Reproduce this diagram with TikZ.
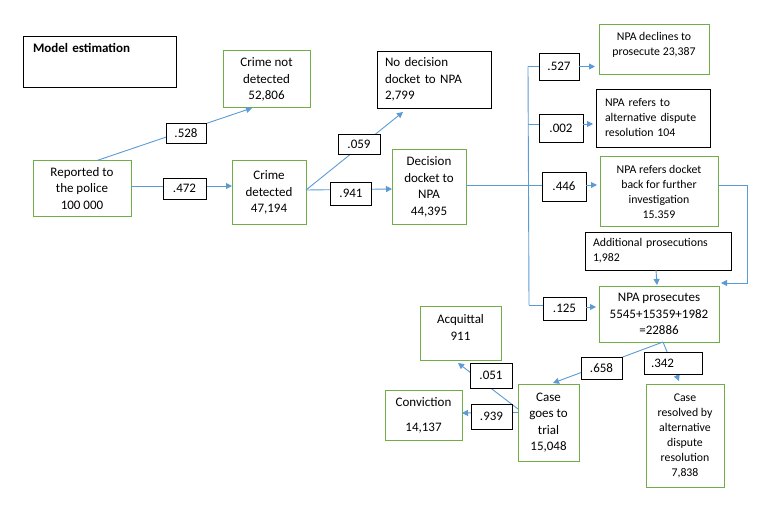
\documentclass[tikz,border=0pt]{standalone}
\usepackage{fontspec}
\setmainfont{Carlito}
\usetikzlibrary{arrows.meta,calc}
\definecolor{boxgreen}{RGB}{112,173,71}
\definecolor{linkblue}{RGB}{91,155,213}
\newcommand\mainf{\fontsize{13}{16.5}\selectfont}
\newcommand\smallf{\fontsize{11.8}{15}\selectfont}
\newcommand\liftup[2]{\raisebox{#1}[\height][\depth]{#2}}
\begin{document}
\begin{tikzpicture}[x=1pt,y=-1pt,
  gbox/.style={draw=boxgreen,line width=1pt,fill=white,inner sep=0pt,outer sep=0pt,align=center,font=\mainf},
  bbox/.style={draw=black,line width=0.9pt,fill=white,inner sep=0pt,outer sep=0pt,align=center,font=\mainf},
  conn/.style={draw=linkblue,line width=0.9pt},
  arr/.style={conn,-{Triangle[length=6pt,width=6pt]}},
  sz/.style 2 args={minimum width=#1pt,minimum height=#2pt}]
\useasboundingbox (0,0) rectangle (768,513);
\fill[white] (0,0) rectangle (768,513);

% boxes
\node[bbox,sz={153}{51},text width=133pt,align=left,inner xsep=10pt] (model) at (99.5,61.5)
  {\liftup{13.5pt}{\textbf{Model estimation}}};
\node[gbox,sz={87}{57}] (cnd) at (266.5,79.5) {Crime not\\detected\\52,806};
\node[gbox,sz={98}{56}] (rep) at (82,188.5) {Reported to\\the police\\100 000};
\node[gbox,sz={74}{63}] (cd) at (269,192.5) {Crime\\detected\\47,194};
\node[bbox,sz={114}{57},text width=98pt,align=left,inner xsep=8pt] (nod) at (434,79.5)
  {No decision\\docket to NPA\\2,799};
\node[gbox,sz={74}{74}] (dd) at (429,187) {Decision\\docket to\\NPA\\44,395};
\node[gbox,sz={110}{50},font=\smallf] (dec) at (654,50)
  {\liftup{4.5pt}{\begin{tabular}{@{}c@{}}NPA declines to\\prosecute 23,387\end{tabular}}};
\node[bbox,sz={114}{58},font=\smallf,text width=96pt,align=left,inner xsep=9pt] (alt) at (653,118)
  {NPA refers to\\alternative dispute\\resolution 104};
\node[gbox,sz={118}{69},font=\smallf] (back) at (659,191.5)
  {NPA refers docket\\back for further\\investigation\\15.359};
\node[bbox,sz={146}{38},font=\smallf,text width=130pt,align=left,inner xsep=8pt] (addp) at (658,251)
  {Additional prosecutions\\1,982};
\node[gbox,sz={120}{56}] (pros) at (659,314) {NPA prosecutes\\5545+15359+1982\\=22886};
\node[gbox,sz={81}{54}] (acq) at (460.5,333)
  {\liftup{4.5pt}{\begin{tabular}{@{}c@{}}Acquittal\\911\end{tabular}}};
\node[gbox,sz={77}{50}] (conv) at (423.5,415) {Conviction\\[8.5pt]14,137};
\node[gbox,sz={61}{77}] (trial) at (548.5,422.5) {Case\\goes to\\trial\\15,048};
\node[gbox,sz={78}{103},font=\smallf] (adr) at (685,435.5)
  {Case\\resolved by\\alternative\\dispute\\resolution\\7,838};

% long connectors (labels drawn on top afterwards)
\draw[arr] ($(rep.north)+(15,0)$) -- ($(cnd.south)+(-14.5,0)$);
\draw[arr] ($(rep.east)+(0,-2.5)$) -- ($(cd.west)+(0,-6.5)$);
\draw[arr] ($(cd.east)+(0,-2.5)$) -- ($(nod.south)+(-31,4)$);
\draw[arr] ($(cd.east)+(0,-2.5)$) -- ($(dd.west)+(0,2)$);
\draw[conn] ($(dd.east)+(0,-2)$) -- ($(dd.east)+(76,-2)$);
\draw[arr] ($(pros.south)+(4,0)$) -- ($(trial.north)+(4.5,-1)$);
\draw[arr] ($(pros.south)+(4,0)$) -- ($(adr.north)+(-6,-3)$);
\draw[arr] ($(trial.west)+(0,-13.5)$) -- ($(acq.south)+(-2.5,3)$);
\draw[arr] ($(trial.west)+(0,-10)$) -- ($(conv.east)+(0,-2)$);
\draw[arr] ($(back.east)+(0,-6.5)$) -- ++(29,0) |- ($(pros.north east)+(2,-3)$);
\draw[arr] ($(addp.south)+(-2,0)$) -- ($(pros.north)+(-2,-1)$);

% probability labels
\node[bbox,sz={40}{20}] (l528) at (186,133) {.528};
\node[bbox,sz={43}{21}] (l472) at (184.5,188.5) {.472};
\node[bbox,sz={42}{20}] (l059) at (359,144) {.059};
\node[bbox,sz={41}{23}] (l941) at (351,193.5) {.941};
\node[bbox,sz={40}{27}] (l527) at (559,66.5) {.527};
\node[bbox,sz={44}{28}] (l002) at (561,128) {.002};
\node[bbox,sz={44}{29}] (l446) at (564,186.5) {.446};
\node[bbox,sz={43}{23}] (l125) at (564.5,308.5) {.125};
\node[bbox,sz={41}{22}] (l658) at (601.5,368) {.658};
\node[bbox,sz={58}{22},text width=44pt,align=left,inner xsep=7pt] (l342) at (673,363) {.342};
\node[bbox,sz={42}{25}] (l051) at (491,375.5) {.051};
\node[bbox,sz={41}{25}] (l939) at (491.5,416.5) {.939};

% trunk to the NPA decisions
\coordinate (trT) at (528,66.5);
\coordinate (tr2) at (528,124);
\coordinate (trB) at (529,305);
\draw[conn] (trT) -- (trB);
\draw[conn] (trT) -- (l527.west);
\draw[conn] (tr2) -- ($(l002.west)+(0,-4)$);
\draw[conn] (trB) -- ($(l125.west)+(0,-3.5)$);
\draw[conn] ($(dd.east)+(76,-2)$) -- ($(l446.west)+(0,-1.5)$);
\draw[arr] (l527.east) -- ($(dec.west)+(-4,16.5)$);
\draw[arr] ($(l002.east)+(0,-4)$) -- ($(alt.west)+(-3,6)$);
\draw[arr] ($(l446.east)+(0,-1.5)$) -- ($(back.west)+(-3,-6.5)$);
\draw[arr] ($(l125.east)+(0,-1.5)$) -- ($(pros.west)+(-3,-7)$);
\end{tikzpicture}
\end{document}
